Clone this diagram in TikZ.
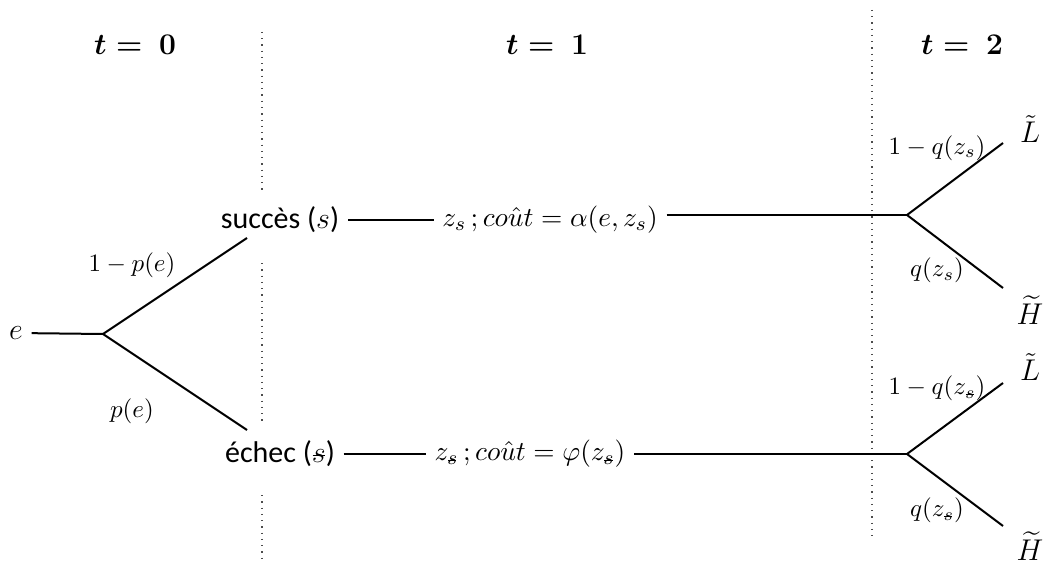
\documentclass[tikz,border=0pt]{standalone}
\usepackage{amsmath}
\usepackage{fontspec}
\setmainfont{Carlito}
\usetikzlibrary{positioning}

\newcommand{\sbar}{\mbox{\ooalign{$s$\cr\hfil\rule[.45ex]{.42em}{.45pt}\hfil\cr}}}
\newcommand{\sbarsub}{\mbox{\ooalign{$\scriptstyle s$\cr\hfil\rule[.3ex]{.3em}{.35pt}\hfil\cr}}}

\begin{document}
\begin{tikzpicture}[x=0.4pt, y=-0.4pt,
	branch/.style = {line width=0.8pt},
	sep/.style = {gray!60!black, dotted, line width=0.5pt},
	etat/.style = {font=\fontsize{12}{14}\selectfont},
	prob/.style = {font=\fontsize{10}{12}\selectfont},
	cout/.style = {font=\fontsize{11}{13}\selectfont},
	issue/.style = {font=\fontsize{13}{15}\selectfont, inner sep=0pt},
	temps/.style = {font=\fontsize{12.5}{15}\selectfont}]
	\useasboundingbox (0,0) rectangle (1046,566);

	% periodes
	\node (t0)[temps] at(135,45) {$\boldsymbol{t=\ 0}$};
	\node (t1)[temps] at(547,45) {$\boldsymbol{t=\ 1}$};
	\node (t2)[temps] at(962,45) {$\boldsymbol{t=\ 2}$};

	\draw [sep](262,32)--(262,190);
	\draw [sep](262,263)--(262,421);
	\draw [sep](262,495)--(262,560);
	\draw [sep](872,10)--(872,537);

	% effort
	\node (e)[font=\fontsize{13}{15}\selectfont] at(16,333) {$e$};
	\coordinate (b0) at(103,334);
	\coordinate (b0h) at(247,238);
	\coordinate (b0b) at(247,430);
	\draw [branch](e)--(b0);
	\draw [branch](b0h)--(b0)--(b0b);
	\node (p1)[prob] at(132,265) {$1-p(e)$};
	\node (p2)[prob] at(132,411) {$p(e)$};

	% succes
	\node (succ)[etat] at(280,220) {succès ($s$)};
	\node (zs)[cout] at(550,220) {$z_s\,;co\hat{u}t=\alpha(e,z_s)$};
	\coordinate (b1) at(907,215);
	\draw [branch](succ)--(zs);
	\draw [branch](zs.east |- b1)--(b1);
	\coordinate (b1h) at(1003,143);
	\coordinate (b1b) at(1003,288);
	\draw [branch](b1h)--(b1)--(b1b);
	\node (q1)[prob] at(937,148) {$1-q(z_s)$};
	\node (q2)[prob] at(937,270) {$q(z_s)$};
	\node (l1)[issue] at(1030,129) {$\tilde{L}$};
	\node (h1)[issue] at(1030,310) {$\widetilde{H}$};

	% echec
	\node (ech)[etat] at(280,454) {échec ($\sbar$)};
	\node (zf)[cout] at(530,454) {$z_{\sbarsub}\,;co\hat{u}t=\varphi(z_{\sbarsub})$};
	\coordinate (b2) at(907,454);
	\draw [branch](ech)--(zf);
	\draw [branch](zf)--(b2);
	\coordinate (b2h) at(1003,383);
	\coordinate (b2b) at(1003,526);
	\draw [branch](b2h)--(b2)--(b2b);
	\node (q3)[prob] at(937,388) {$1-q(z_{\sbarsub})$};
	\node (q4)[prob] at(937,510) {$q(z_{\sbarsub})$};
	\node (l2)[issue] at(1030,367) {$\tilde{L}$};
	\node (h2)[issue] at(1030,546) {$\widetilde{H}$};
\end{tikzpicture}
\end{document}
